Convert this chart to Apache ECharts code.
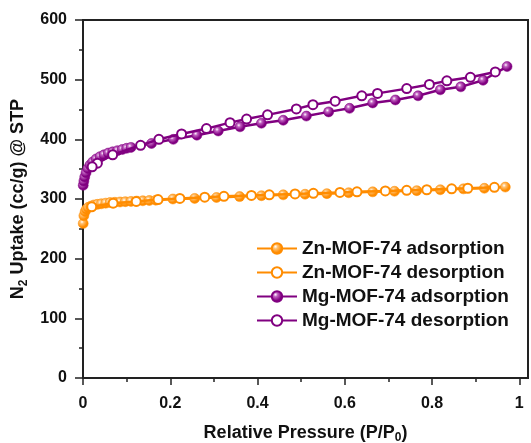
<!DOCTYPE html>
<html>
<head>
<meta charset="utf-8">
<script src="https://cdn.jsdelivr.net/npm/echarts@6/dist/echarts.min.js"></script>
<style>
html,body{margin:0;padding:0;background:#fff;}
#chart{width:531px;height:443px;}
</style>
</head>
<body>
<div id="chart"></div>
<script>
// ---- data ----
var znAdsX = [0.0005, 0.002, 0.005, 0.008, 0.012, 0.018, 0.025, 0.033, 0.042, 0.052, 0.062, 0.073, 0.085, 0.097, 0.11, 0.123, 0.137, 0.152, 0.167, 0.206, 0.256, 0.306, 0.359, 0.409, 0.459, 0.509, 0.559, 0.609, 0.664, 0.714, 0.765, 0.819, 0.872, 0.92, 0.968];
var znAdsY = [259, 272, 279, 283, 286, 288, 290, 291, 292, 293, 294, 294.5, 295, 295.5, 296, 296.5, 297, 297.5, 298, 300, 301, 302.5, 304, 305.5, 307, 308, 309, 310.5, 312, 313, 314, 315.5, 317, 318, 320];

var znDesX = [0.943, 0.882, 0.845, 0.788, 0.742, 0.693, 0.628, 0.589, 0.528, 0.486, 0.427, 0.386, 0.323, 0.279, 0.222, 0.172, 0.122, 0.069, 0.02];
var znDesY = [319.5, 318, 317, 315.5, 314.5, 313.5, 312, 311, 309.5, 308.5, 307, 306, 304.5, 303, 301, 299, 296, 293, 287];

var mgAdsX = [0.0005, 0.002, 0.004, 0.007, 0.011, 0.016, 0.022, 0.03, 0.039, 0.048, 0.058, 0.068, 0.079, 0.09, 0.1, 0.11, 0.157, 0.207, 0.261, 0.31, 0.36, 0.409, 0.459, 0.512, 0.563, 0.611, 0.664, 0.716, 0.768, 0.819, 0.866, 0.917, 0.972];
var mgAdsY = [323, 330, 337, 344, 351, 357, 362, 367, 371, 374, 377, 379, 381, 383, 385, 386.5, 393, 400, 407, 414, 421, 427, 432, 439, 446, 452, 461, 466, 473, 483, 488, 499, 522];

var mgDesX = [0.945, 0.888, 0.834, 0.794, 0.742, 0.675, 0.639, 0.578, 0.527, 0.489, 0.423, 0.375, 0.337, 0.283, 0.226, 0.174, 0.132, 0.068, 0.033, 0.021];
var mgDesY = [513, 504, 498, 492, 485, 477, 473, 464, 458, 451, 441, 434, 428, 418, 409, 400, 390, 374, 360, 354];

var seriesNames = ['Zn-MOF-74 adsorption', 'Zn-MOF-74 desorption', 'Mg-MOF-74 adsorption', 'Mg-MOF-74 desorption'];
var xMajorTicks = [0, 0.2, 0.4, 0.6, 0.8, 1];
var xMinorTicks = [0.1, 0.3, 0.5, 0.7, 0.9];

// ---- style ----
var ORANGE = '#FF8C00';
var PURPLE = '#800080';
var FONT = '"Liberation Sans", Arial, sans-serif';

function zip(xs, ys) { return xs.map(function (x, i) { return [x, ys[i]]; }); }
function ball(c, light) {
  return { type: 'radial', x: 0.38, y: 0.35, r: 0.7,
    colorStops: [{ offset: 0, color: '#ffffff' }, { offset: 0.25, color: light }, { offset: 0.7, color: c }, { offset: 1, color: c }] };
}
function mkSeries(name, data, color, filled, light) {
  return {
    name: name, type: 'line', data: data, xAxisIndex: 0,
    symbol: 'circle', symbolSize: filled ? 10 : 9,
    lineStyle: { color: color, width: 2.5 },
    itemStyle: filled ? { color: ball(color, light), borderColor: color, borderWidth: 0.5 }
                      : { color: '#ffffff', borderColor: color, borderWidth: 2 },
    emphasis: { disabled: true },
    z: filled ? 2 : 3
  };
}

var chart = echarts.init(document.getElementById('chart'), null, { renderer: 'canvas' });
chart.setOption({
  animation: false,
  backgroundColor: '#ffffff',
  grid: { left: 83, right: 3, top: 20, bottom: 65, outerBoundsMode: 'none', containLabel: false,
          show: true, borderColor: '#222', borderWidth: 2, backgroundColor: 'transparent' },
  legend: {
    data: seriesNames, orient: 'vertical', left: 251, top: 234,
    itemWidth: 40, itemHeight: 13, itemGap: 5, selectedMode: false,
    textStyle: { fontFamily: FONT, fontSize: 19, fontWeight: 'bold', color: '#111' }
  },
  xAxis: [{
    type: 'value', min: 0, max: 1.02, position: 'bottom',
    axisLine: { show: true, lineStyle: { color: '#222', width: 2 } },
    axisTick: { show: true, customValues: xMajorTicks, length: 7, inside: false, lineStyle: { color: '#222', width: 1.5 } },
    axisLabel: { customValues: xMajorTicks, margin: 18, fontFamily: FONT, fontSize: 16, fontWeight: 'bold', color: '#111' },
    splitLine: { show: false },
    name: '{a|Relative Pressure (P/P}{sub|0}{a|)}', nameLocation: 'middle', nameGap: 44,
    nameTextStyle: { rich: {
      a: { fontFamily: FONT, fontSize: 18, fontWeight: 'bold', color: '#111' },
      sub: { fontFamily: FONT, fontSize: 12, fontWeight: 'bold', color: '#111', padding: [10, 0, 0, 0] } } }
  }, {
    type: 'value', min: 0, max: 1.02, position: 'bottom', offset: 0,
    axisLine: { show: false },
    axisTick: { show: true, customValues: xMinorTicks, length: 4, lineStyle: { color: '#222', width: 1.5 } },
    axisLabel: { show: false }, splitLine: { show: false }
  }],
  yAxis: {
    type: 'value', min: 0, max: 600, interval: 100,
    axisLine: { show: true, lineStyle: { color: '#222', width: 2 } },
    axisTick: { show: true, length: 8, lineStyle: { color: '#222', width: 1.5 } },
    minorTick: { show: true, splitNumber: 2, length: 4, lineStyle: { color: '#222', width: 1.5 } },
    axisLabel: { margin: 16, fontFamily: FONT, fontSize: 16, fontWeight: 'bold', color: '#111' },
    splitLine: { show: false }, minorSplitLine: { show: false },
    name: '{a|N}{sub|2}{a| Uptake (cc/g) @ STP}', nameLocation: 'middle', nameGap: 47,
    nameTextStyle: { rich: {
      a: { fontFamily: FONT, fontSize: 18, fontWeight: 'bold', color: '#111' },
      sub: { fontFamily: FONT, fontSize: 12, fontWeight: 'bold', color: '#111', padding: [10, 0, 0, 0] } } }
  },
  series: [
    mkSeries(seriesNames[0], zip(znAdsX, znAdsY), ORANGE, true, '#FFC070'),
    mkSeries(seriesNames[1], zip(znDesX, znDesY), ORANGE, false),
    mkSeries(seriesNames[2], zip(mgAdsX, mgAdsY), PURPLE, true, '#C060C0'),
    mkSeries(seriesNames[3], zip(mgDesX, mgDesY), PURPLE, false)
  ]
});
</script>
</body>
</html>
